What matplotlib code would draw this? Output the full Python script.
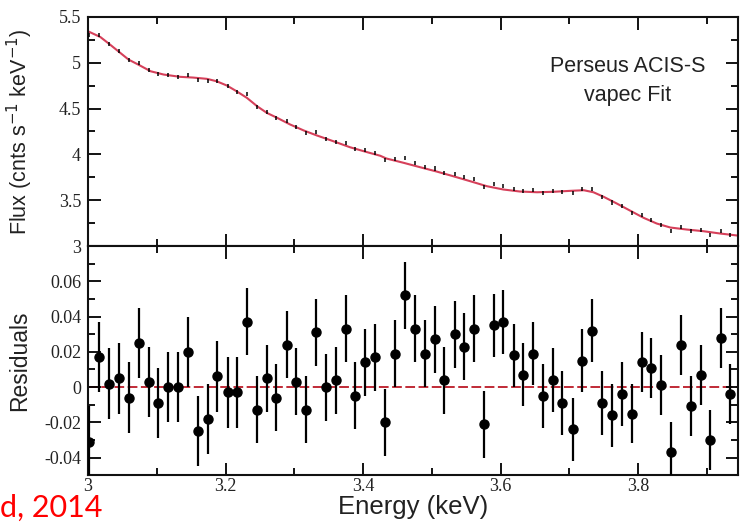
import numpy as np
import matplotlib.pyplot as plt
from matplotlib.ticker import MultipleLocator, FixedLocator, FuncFormatter

# bin centres (keV)
energy = [3.002, 3.016, 3.031, 3.045, 3.059, 3.074, 3.088, 3.102, 3.117, 3.131,
          3.145, 3.160, 3.174, 3.188, 3.203, 3.217, 3.231, 3.246, 3.260, 3.274,
          3.289, 3.303, 3.317, 3.332, 3.346, 3.360, 3.375, 3.389, 3.403, 3.418,
          3.432, 3.447, 3.461, 3.475, 3.490, 3.504, 3.518, 3.533, 3.547, 3.561,
          3.576, 3.590, 3.604, 3.619, 3.633, 3.647, 3.662, 3.676, 3.690, 3.705,
          3.719, 3.733, 3.748, 3.762, 3.776, 3.791, 3.805, 3.819, 3.834, 3.848,
          3.862, 3.877, 3.891, 3.905, 3.920, 3.934]

# observed flux (cnts/s/keV)
flux = [5.305, 5.304, 5.206, 5.124, 5.028, 5.001, 4.922, 4.877, 4.864, 4.849,
        4.861, 4.808, 4.804, 4.801, 4.744, 4.681, 4.654, 4.512, 4.458, 4.397,
        4.369, 4.299, 4.238, 4.240, 4.172, 4.139, 4.127, 4.057, 4.044, 4.013,
        3.937, 3.948, 3.956, 3.909, 3.865, 3.846, 3.794, 3.788, 3.750, 3.729,
        3.641, 3.673, 3.654, 3.621, 3.600, 3.608, 3.584, 3.596, 3.588, 3.579,
        3.623, 3.622, 3.535, 3.475, 3.432, 3.362, 3.334, 3.279, 3.230, 3.164,
        3.212, 3.165, 3.172, 3.122, 3.164, 3.120]
flux_err = 0.022

# vapec model curve
model_energy = [3.000, 3.018, 3.032, 3.044, 3.059, 3.073, 3.091, 3.110, 3.134, 3.153,
                3.173, 3.187, 3.202, 3.216, 3.231, 3.246, 3.260, 3.275, 3.294, 3.314,
                3.333, 3.357, 3.381, 3.406, 3.425, 3.434, 3.459, 3.483, 3.507, 3.531,
                3.556, 3.580, 3.604, 3.628, 3.653, 3.677, 3.701, 3.721, 3.735, 3.750,
                3.769, 3.788, 3.808, 3.827, 3.847, 3.871, 3.895, 3.919, 3.944]
model_flux = [5.343, 5.280, 5.198, 5.125, 5.034, 4.980, 4.907, 4.871, 4.846, 4.838,
              4.824, 4.798, 4.751, 4.689, 4.617, 4.525, 4.453, 4.399, 4.326, 4.260,
              4.206, 4.143, 4.078, 4.024, 3.985, 3.955, 3.908, 3.860, 3.813, 3.762,
              3.707, 3.653, 3.617, 3.595, 3.587, 3.592, 3.602, 3.609, 3.587, 3.537,
              3.464, 3.388, 3.308, 3.246, 3.202, 3.180, 3.162, 3.137, 3.115]

resid = [-0.031, 0.017, 0.002, 0.005, -0.006, 0.025, 0.003, -0.009, 0.000, 0.000,
         0.020, -0.025, -0.018, 0.006, -0.003, -0.003, 0.037, -0.013, 0.005, -0.006,
         0.024, 0.003, -0.013, 0.031, 0.000, 0.004, 0.033, -0.005, 0.014, 0.017,
         -0.020, 0.019, 0.052, 0.033, 0.019, 0.027, 0.004, 0.030, 0.023, 0.033,
         -0.021, 0.035, 0.037, 0.018, 0.007, 0.019, -0.005, 0.004, -0.009, -0.024,
         0.015, 0.032, -0.009, -0.016, -0.004, -0.015, 0.014, 0.011, 0.001, -0.037,
         0.024, -0.011, 0.007, -0.030, 0.028, -0.004]
resid_err = [0.020, 0.020, 0.020, 0.020, 0.020, 0.020, 0.020, 0.020, 0.020, 0.020,
             0.020, 0.020, 0.020, 0.020, 0.020, 0.020, 0.019, 0.019, 0.019, 0.019,
             0.019, 0.019, 0.019, 0.019, 0.019, 0.019, 0.019, 0.019, 0.019, 0.019,
             0.019, 0.019, 0.019, 0.019, 0.019, 0.019, 0.019, 0.019, 0.019, 0.019,
             0.019, 0.018, 0.018, 0.018, 0.018, 0.018, 0.018, 0.018, 0.018, 0.018,
             0.018, 0.018, 0.018, 0.018, 0.018, 0.017, 0.017, 0.017, 0.017, 0.017,
             0.017, 0.017, 0.017, 0.017, 0.017, 0.017]


def plain(v, pos):
    v = round(v, 4)
    if v == 0:
        return '0'
    return '%g' % v


fig = plt.figure(figsize=(7.46, 5.28), dpi=100)
ax1 = fig.add_axes([0.118, 0.534, 0.871, 0.434])
ax2 = fig.add_axes([0.118, 0.100, 0.871, 0.434], sharex=ax1)

# top panel
ax1.plot(model_energy, model_flux, color='#d6405a', lw=1.5, zorder=2)
ax1.errorbar(energy, flux, yerr=flux_err, fmt='none', ecolor='k', elinewidth=1.1, zorder=3)
ax1.set_ylim(3, 5.5)
ax1.yaxis.set_major_locator(MultipleLocator(0.5))
ax1.yaxis.set_minor_locator(MultipleLocator(0.25))
ax1.yaxis.set_major_formatter(FuncFormatter(plain))
ax1.set_ylabel('Flux (cnts s$^{-1}$ keV$^{-1}$)', fontsize=15.5, family='Liberation Sans',
               color='#222222')
ax1.yaxis.set_label_coords(-0.082, 0.5)
ax1.tick_params(labelbottom=False)
ax1.text(0.831, 0.785, 'Perseus ACIS-S', transform=ax1.transAxes, ha='center', va='center',
         fontsize=15.5, family='Liberation Sans', color='#222222')
ax1.text(0.831, 0.655, 'vapec Fit', transform=ax1.transAxes, ha='center', va='center',
         fontsize=15.5, family='Liberation Sans', color='#222222')

# residuals panel
ax2.axhline(0, color='#c02a36', lw=1.4, ls=(0, (5, 1.8)), zorder=1)
ax2.errorbar(energy, resid, yerr=resid_err, fmt='o', color='k', ms=6.5,
             elinewidth=1.6, capsize=0, zorder=3)
ax2.set_ylim(-0.05, 0.08)
ax2.yaxis.set_major_locator(FixedLocator([-0.04, -0.02, 0, 0.02, 0.04, 0.06]))
ax2.yaxis.set_minor_locator(MultipleLocator(0.01))
ax2.yaxis.set_major_formatter(FuncFormatter(plain))
ax2.set_xlim(3.0, 3.945)
ax2.xaxis.set_major_locator(MultipleLocator(0.2))
ax2.xaxis.set_minor_locator(MultipleLocator(0.1))
ax2.xaxis.set_major_formatter(FuncFormatter(plain))
ax2.set_ylabel('Residuals', fontsize=16.5, family='Liberation Sans', color='#222222')
ax2.yaxis.set_label_coords(-0.088, 0.5)
ax2.set_xlabel('Energy (keV)', fontsize=18.5, family='Liberation Sans', color='#222222',
               labelpad=0)

for ax in (ax1, ax2):
    for s in ax.spines.values():
        s.set_linewidth(1.5)
        s.set_color('#111111')
    ax.tick_params(which='both', direction='in', top=True, right=True, width=1.3,
                   labelsize=13, labelfontfamily='Liberation Serif', labelcolor='#222222')
    ax.tick_params(which='major', length=9)
    ax.tick_params(which='minor', length=5)
ax1.tick_params(axis='y', pad=5)
ax2.tick_params(axis='y', pad=5)
ax2.tick_params(axis='x', pad=2)

fig.text(0.0, 0.022, 'd, 2014', color='#ff0000', fontsize=22, family='Lato',
         ha='left', va='baseline')

fig.savefig('out.png', dpi=100)
